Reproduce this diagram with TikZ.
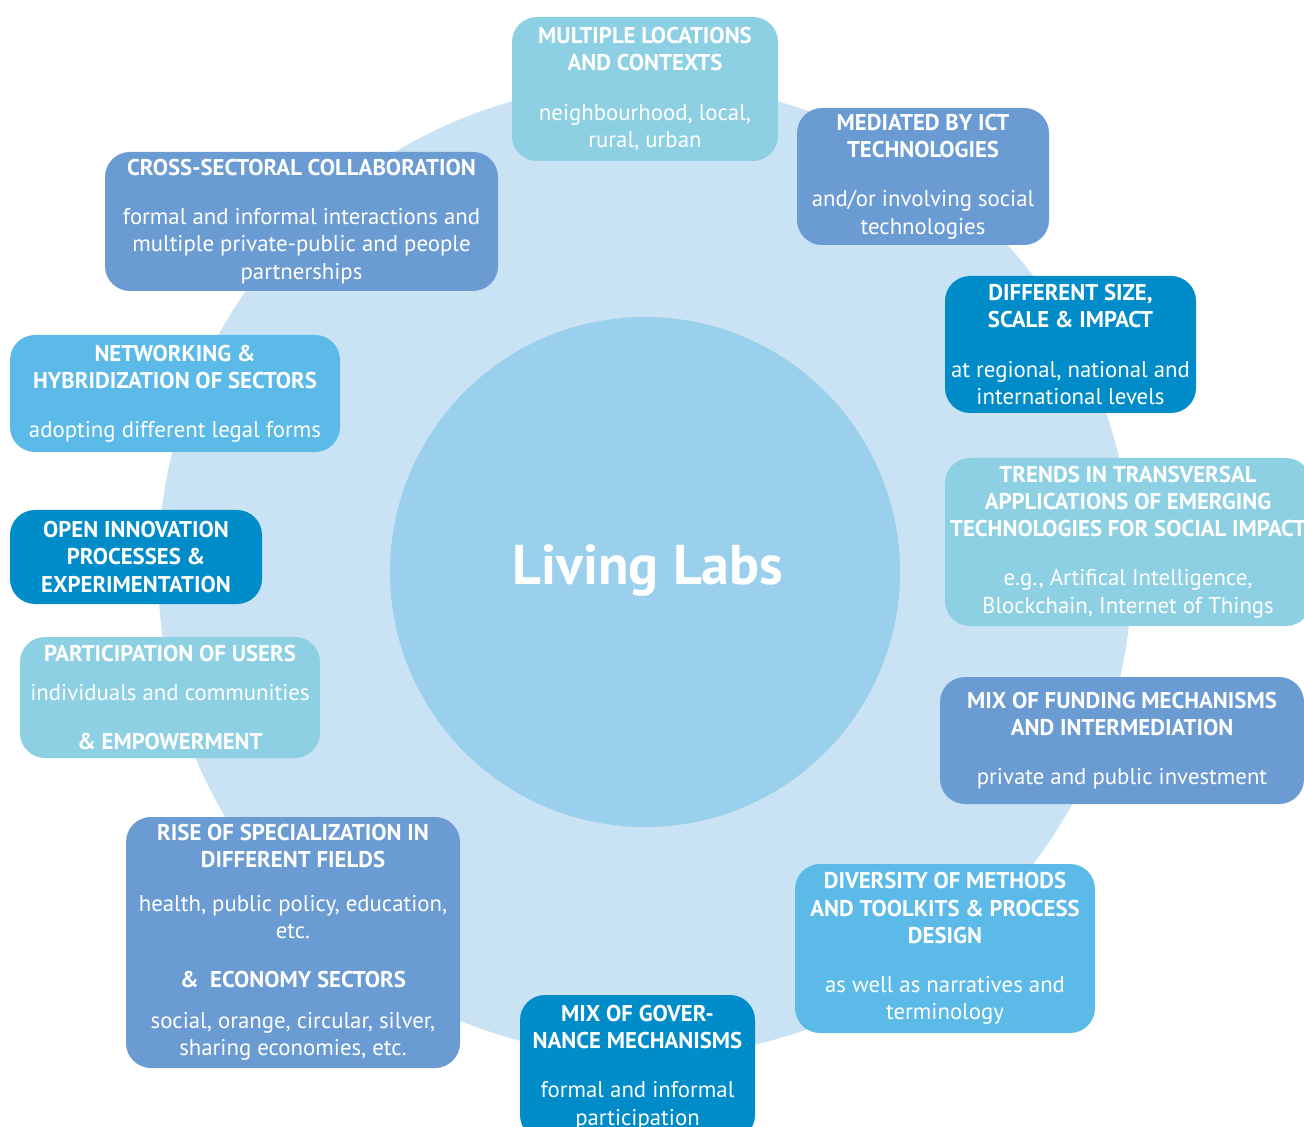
\documentclass[tikz,border=0pt]{standalone}
\usepackage{fontspec}
\setmainfont{PT Sans}
\definecolor{ringblue}{HTML}{C9E3F4}
\definecolor{coreblue}{HTML}{9BD0ED}
\definecolor{cardteal}{HTML}{8DD0E3}
\definecolor{cardperi}{HTML}{6B9BD3}
\definecolor{carddark}{HTML}{008BC9}
\definecolor{cardsky}{HTML}{5CBAE8}
\newcommand{\hd}[1]{\textbf{#1}}
\tikzset{
  card/.style={rounded corners=12.5pt, text=white, align=center, inner sep=0pt,
    font=\fontsize{11.4pt}{13.6pt}\selectfont},
}
\begin{document}
\begin{tikzpicture}[x=0.5pt,y=-0.5pt]
\useasboundingbox (0,0) rectangle (1304,1127);
\clip (0,0) rectangle (1304,1127);
\fill[white] (0,0) rectangle (1304,1127);
% background rings
\fill[ringblue] (645,570) circle[radius=487];
\node[circle, fill=coreblue, minimum size=255pt, inner sep=0pt] (core) at (645,572) {};
\node[text=white, font=\fontsize{28pt}{31pt}\selectfont\bfseries] (title) at (648,571) {Living Labs};

% feature cards
\node[card, fill=cardteal, minimum width=133pt, minimum height=72pt] (loc) at (645,89)
  {\hd{MULTIPLE LOCATIONS}\\\hd{AND CONTEXTS}\\[11pt]neighbourhood, local,\\rural, urban};
\node[card, fill=cardperi, minimum width=126pt, minimum height=68.5pt] (ict) at (923,176.5)
  {\hd{MEDIATED BY ICT}\\\hd{TECHNOLOGIES}\\[11pt]and/or involving social\\technologies};
\node[card, fill=cardperi, minimum width=196.5pt, minimum height=69.5pt] (cross) at (301.5,221.5)
  {\hd{CROSS-SECTORAL COLLABORATION}\\[11pt]formal and informal interactions and\\multiple private-public and people\\partnerships};
\node[card, fill=carddark, minimum width=125.5pt, minimum height=68.5pt] (size) at (1070.5,344.5)
  {\hd{DIFFERENT SIZE,}\\\hd{SCALE \& IMPACT}\\[11pt]at regional, national and\\international levels};
\node[card, fill=cardsky, minimum width=165pt, minimum height=58.5pt] (net) at (175,393.5)
  {\hd{NETWORKING \&}\\\hd{HYBRIDIZATION OF SECTORS}\\[11pt]adopting different legal forms};
\node[card, fill=cardteal, minimum width=183pt, minimum height=84pt] (trend) at (1128,542)
  {\hd{TRENDS IN TRANSVERSAL}\\\hd{APPLICATIONS OF EMERGING}\\\hd{TECHNOLOGIES FOR SOCIAL IMPACT}\\[11pt]e.g., Artifical Intelligence,\\Blockchain, Internet of Things};
\node[card, fill=carddark, minimum width=126pt, minimum height=47pt] (open) at (136,557)
  {\hd{OPEN INNOVATION}\\\hd{PROCESSES \&}\\\hd{EXPERIMENTATION}};
\node[card, fill=cardteal, minimum width=150pt, minimum height=60.5pt] (part) at (170,697.5)
  {\hd{PARTICIPATION OF USERS}\\[6pt]individuals and communities\\[11pt]\hd{\& EMPOWERMENT}};
\node[card, fill=cardperi, minimum width=182pt, minimum height=63.5pt] (fund) at (1122,740.5)
  {\hd{MIX OF FUNDING MECHANISMS}\\\hd{AND INTERMEDIATION}\\[11pt]private and public investment};
\node[card, fill=cardperi, minimum width=167pt, minimum height=125.5pt] (rise) at (293,942.5)
  {\hd{RISE OF SPECIALIZATION IN}\\\hd{DIFFERENT FIELDS}\\[8pt]health, public policy, education,\\etc.\\[11pt]\hd{\&\ \ ECONOMY SECTORS}\\[7pt]social, orange, circular, silver,\\sharing economies, etc.};
\node[card, fill=cardsky, minimum width=150pt, minimum height=84.5pt] (meth) at (945,948.5)
  {\hd{DIVERSITY OF METHODS}\\\hd{AND TOOLKITS \& PROCESS}\\\hd{DESIGN}\\[11pt]as well as narratives and\\terminology};
\node[card, fill=carddark, minimum width=117.5pt, minimum height=72.5pt] (gov) at (637.5,1067.5)
  {\hd{MIX OF GOVER-}\\\hd{NANCE MECHANISMS}\\[11pt]formal and informal\\participation};
\end{tikzpicture}
\end{document}
